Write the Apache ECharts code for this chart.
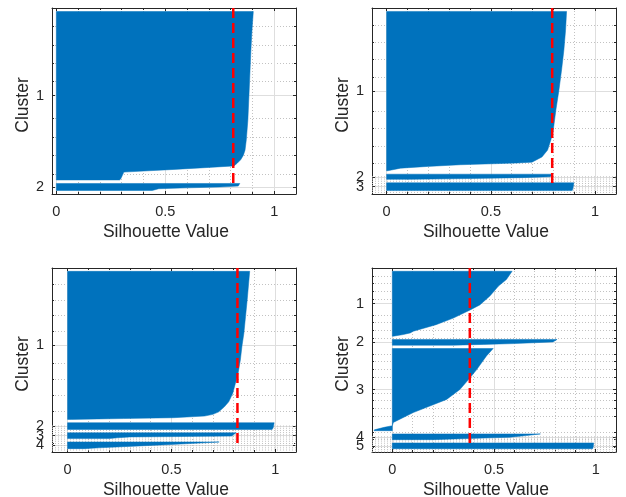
<!DOCTYPE html>
<html>
<head>
<meta charset="utf-8">
<title>Silhouette plots</title>
<script src="https://cdn.jsdelivr.net/npm/echarts@6/dist/echarts.min.js"></script>
<style>
  html, body { margin: 0; padding: 0; background: #fff; }
  #chart { width: 626px; height: 497px; }
</style>
</head>
<body>
<div id="chart"></div>
<script>
// sorted silhouette values per cluster: [observation index inside the cluster, silhouette value]
const k2Cluster1 = [[0, 0.904], [21, 0.898], [44, 0.893], [67, 0.889], [96, 0.884], [124, 0.879], [146, 0.872], [158, 0.866], [164, 0.858], [169, 0.846], [173, 0.83], [176, 0.815], [178, 0.68], [180, 0.54], [183, 0.31], [191, 0.295], [192, 0.29]]
const k2Cluster2 = [[0, 0.842], [3, 0.835], [4, 0.75], [5, 0.6], [6, 0.47], [8, 0.44]]

const k3Cluster1 = [[0, 0.863], [22, 0.858], [45, 0.85], [68, 0.839], [92, 0.826], [114, 0.812], [138, 0.799], [149, 0.788], [161, 0.772], [169, 0.745], [175, 0.697], [176, 0.625], [178, 0.354], [180, 0.195], [182, 0.067], [185, 0.005]]
const k3Cluster2 = [[0, 0.792], [3, 0.785], [4, 0.65], [5, 0.4], [6, 0.12]]
const k3Cluster3 = [[0, 0.898], [7, 0.893], [9, 0.89]]

const k4Cluster1 = [[0, 0.877], [34, 0.865], [54, 0.857], [74, 0.849], [89, 0.84], [106, 0.832], [122, 0.821], [134, 0.808], [146, 0.795], [156, 0.776], [162, 0.755], [168, 0.728], [171, 0.7], [173, 0.66], [175, 0.51], [176, 0.27], [177, 0.02]]
const k4Cluster2 = [[0, 0.995], [6, 0.99], [8, 0.985]]
const k4Cluster3 = [[0, 0.812], [4, 0.79], [5, 0.3], [6, 0.24], [7, 0.2]]
const k4Cluster4 = [[0, 0.73], [1, 0.66], [3, 0.5], [5, 0.32], [7, 0.15], [8, 0.08]]

const k5Cluster1 = [[0, 0.589], [10, 0.561], [18, 0.522], [30, 0.48], [41, 0.43], [47, 0.383], [57, 0.3], [65, 0.215], [73, 0.103], [75, 0.088], [77, 0.054], [79, 0.005]]
const k5Cluster2 = [[0, 0.81], [3, 0.79], [5, 0.6], [6, 0.45], [7, 0.3]]
const k5Cluster3 = [[0, 0.496], [9, 0.463], [26, 0.414], [36, 0.381], [50, 0.332], [62, 0.267], [70, 0.185], [78, 0.103], [90, 0.005], [94, 0], [96, -0.04], [99, -0.088], [100, -0.09]]
const k5Cluster4 = [[0, 0.728], [2, 0.66], [4, 0.58], [5, 0.45], [7, 0.2]]
const k5Cluster5 = [[0, 0.99], [5, 0.988], [7, 0.985]]

// mean silhouette value (red dashed line)
const meanValues = [0.812, 0.794, 0.818, 0.381]
// x axis limits and ticks
const xMins = [-0.02, -0.07, -0.075, -0.1]
const xMax = 1.1
const xTicks = [0, 0.5, 1]
const clusterNames = ['1', '2', '3', '4', '5']
const gapRows = 4

const ink = '#262626'
const font = '"Liberation Sans", Arial, Helvetica, sans-serif'
const blue = '#0072BD'

const panels = [
  { clusters: [k2Cluster1, k2Cluster2], left: 52, top: 8, height: 186, minorRows: 21, denseFrom: -1 },
  { clusters: [k3Cluster1, k3Cluster2, k3Cluster3], left: 372, top: 8, height: 186, minorRows: 20, denseFrom: 1 },
  { clusters: [k4Cluster1, k4Cluster2, k4Cluster3, k4Cluster4], left: 52, top: 268, height: 184, minorRows: 19, denseFrom: 1 },
  { clusters: [k5Cluster1, k5Cluster2, k5Cluster3, k5Cluster4, k5Cluster5], left: 372, top: 268, height: 184, minorRows: 9.5, denseFrom: 3 }
]

const grid = []
const xAxis = []
const yAxis = []
const series = []

panels.forEach((p, i) => {
  // rows: gap, cluster 1, gap, cluster 2, ... gap
  let row = gapRows
  const spans = p.clusters.map(c => {
    const size = c[c.length - 1][0]
    const span = { start: row, size: size }
    row += size + gapRows
    return span
  })
  const total = row
  const centers = spans.map(s => s.start + s.size / 2)
  const xMin = xMins[i]

  grid.push({ left: p.left, top: p.top, width: 244, height: p.height, outerBoundsMode: 'none' })

  const tickLine = { color: ink, width: 1 }
  const gridLine = { color: '#dedede', width: 1 }
  const minorLine = { color: '#c2c2c2', width: 1, type: [1, 2] }
  const labelStyle = { fontSize: 14.5, color: ink, fontFamily: font, hideOverlap: false, showMinLabel: true, showMaxLabel: true }

  xAxis.push({
    type: 'value', gridIndex: i, position: 'bottom', min: xMin, max: xMax, splitNumber: 2,
    name: 'Silhouette Value', nameLocation: 'middle', nameGap: 29,
    nameTextStyle: { fontSize: 17.5, color: ink, fontFamily: font, padding: [0, 16, 0, 0] },
    axisLine: { show: true, onZero: false, lineStyle: tickLine },
    axisTick: { show: true, inside: true, length: 3, customValues: xTicks, lineStyle: tickLine },
    minorTick: { show: true, splitNumber: 5, length: 2, lineStyle: tickLine },
    axisLabel: Object.assign({ customValues: xTicks, margin: 10 }, labelStyle),
    splitLine: { show: true, lineStyle: gridLine },
    minorSplitLine: { show: true, lineStyle: minorLine }
  })
  xAxis.push({
    type: 'value', gridIndex: i, position: 'top', min: xMin, max: xMax, splitNumber: 2,
    axisLine: { show: true, onZero: false, lineStyle: tickLine },
    axisTick: { show: true, inside: true, length: 3, customValues: xTicks, lineStyle: tickLine },
    minorTick: { show: true, splitNumber: 5, length: 2, lineStyle: tickLine },
    axisLabel: { show: false },
    splitLine: { show: false },
    minorSplitLine: { show: false }
  })

  const clusterLabel = v => {
    const j = centers.findIndex(c => Math.abs(c - v) < 1e-6)
    return j < 0 ? '' : clusterNames[j]
  }
  // cluster labels sit close together, so odd and even ones go on two overlaid axes
  const evenCenters = centers.filter((c, j) => j % 2 === 0)
  const oddCenters = centers.filter((c, j) => j % 2 === 1)

  yAxis.push({
    type: 'value', gridIndex: i, position: 'left', inverse: true, min: 0, max: total, interval: p.minorRows * 5,
    name: 'Cluster', nameLocation: 'middle', nameGap: 20, nameRotate: 90,
    nameTextStyle: { fontSize: 17.5, color: ink, fontFamily: font, padding: [0, 8, 0, 0] },
    axisLine: { show: true, onZero: false, lineStyle: tickLine },
    axisTick: { show: true, inside: true, length: 3, customValues: centers, lineStyle: tickLine },
    minorTick: { show: true, splitNumber: 5, length: 2, lineStyle: tickLine },
    axisLabel: Object.assign({ customValues: evenCenters, formatter: clusterLabel, margin: 8 }, labelStyle),
    splitLine: { show: true, lineStyle: gridLine },
    minorSplitLine: { show: true, lineStyle: minorLine }
  })
  yAxis.push({
    type: 'value', gridIndex: i, position: 'right', inverse: true, min: 0, max: total, interval: p.minorRows * 5,
    axisLine: { show: true, onZero: false, lineStyle: tickLine },
    axisTick: { show: true, inside: true, length: 3, customValues: centers, lineStyle: tickLine },
    minorTick: { show: true, splitNumber: 5, length: 2, lineStyle: tickLine },
    axisLabel: { show: false },
    splitLine: { show: false },
    minorSplitLine: { show: false }
  })
  yAxis.push({
    type: 'value', gridIndex: i, position: 'left', offset: 0, inverse: true, min: 0, max: total, interval: p.minorRows * 5,
    axisLine: { show: false, onZero: false },
    axisTick: { show: false },
    minorTick: { show: false },
    axisLabel: Object.assign({ show: oddCenters.length > 0, customValues: oddCenters.length ? oddCenters : [centers[0]], formatter: clusterLabel, margin: 8 }, labelStyle),
    splitLine: { show: false },
    minorSplitLine: { show: false }
  })

  const xi = 2 * i
  const yi = 3 * i

  // dense minor grid near the closely spaced cluster ticks
  if (p.denseFrom >= 0) {
    const rows = []
    for (let r = centers[p.denseFrom]; r < total; r += 2.6) rows.push([0, r])
    series.push({
      type: 'custom', xAxisIndex: xi, yAxisIndex: yi, z: 1, silent: true, animation: false,
      data: rows,
      renderItem: (params, api) => {
        const y = api.coord([0, api.value(1)])[1]
        const cs = params.coordSys
        return {
          type: 'line',
          shape: { x1: cs.x, y1: y, x2: cs.x + cs.width, y2: y },
          style: { stroke: '#c2c2c2', lineWidth: 1, lineDash: [1, 2] }
        }
      }
    })
  }

  // one filled shape per cluster, outline from its sorted silhouette values
  series.push({
    type: 'custom', xAxisIndex: xi, yAxisIndex: yi, z: 2, silent: true, animation: false,
    data: spans.map(s => [0, s.start]),
    renderItem: (params, api) => {
      const s = spans[params.dataIndex]
      const knots = p.clusters[params.dataIndex]
      const pts = [api.coord([0, s.start])]
      knots.forEach(k => pts.push(api.coord([k[1], s.start + k[0]])))
      pts.push(api.coord([0, s.start + s.size]))
      return {
        type: 'polygon',
        shape: { points: pts },
        style: { fill: blue, stroke: blue, lineWidth: 0.5 }
      }
    }
  })

  series.push({
    type: 'line', xAxisIndex: xi, yAxisIndex: yi, z: 5, silent: true, animation: false,
    data: [[meanValues[i], 0], [meanValues[i], total - 2 * gapRows - 1.5]],
    symbol: 'none',
    lineStyle: { color: '#ff0000', width: 2.5, type: [10, 5] }
  })
})

const chart = echarts.init(document.getElementById('chart'), null, { renderer: 'canvas' })
chart.setOption({
  backgroundColor: '#fff',
  animation: false,
  textStyle: { fontFamily: font },
  grid: grid,
  xAxis: xAxis,
  yAxis: yAxis,
  series: series
})
</script>
</body>
</html>
